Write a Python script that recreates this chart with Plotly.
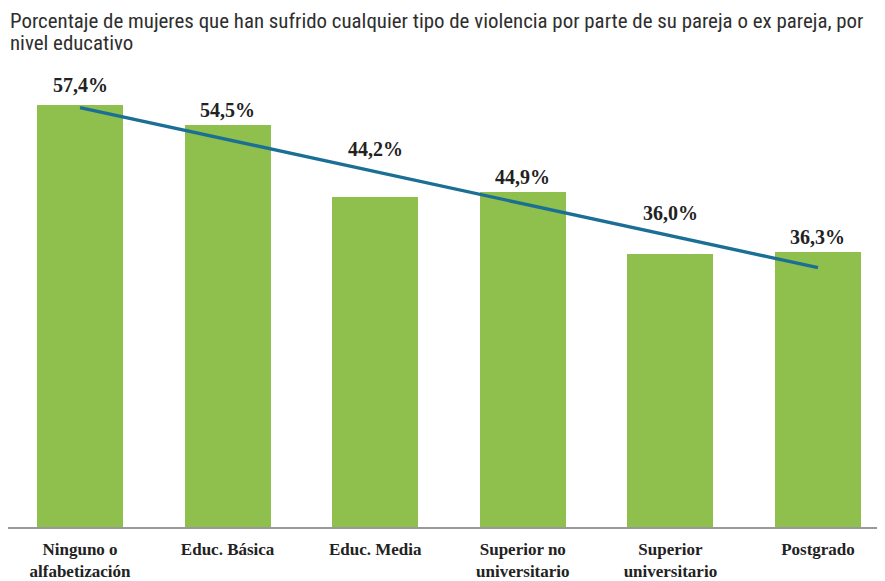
import numpy as np
import plotly.graph_objects as go

categories = ["Ninguno o<br>alfabetización", "Educ. Básica", "Educ. Media",
              "Superior no<br>universitario", "Superior<br>universitario", "Postgrado"]
values = [57.4, 54.5, 44.2, 44.9, 36.0, 36.3]
value_labels = ["57,4%", "54,5%", "44,2%", "44,9%", "36,0%", "36,3%"]
title_lines = ["Porcentaje de mujeres que han sufrido cualquier tipo de violencia por parte de su pareja o ex pareja, por",
               "nivel educativo"]

x = np.arange(len(values))
slope, intercept = np.polyfit(x, values, 1)
trend = slope * x + intercept

BAR = "#8fbf4c"
LINE = "#1b6f94"
SERIF = "Liberation Serif, Times New Roman, serif"
NARROW = "Liberation Sans Narrow, Arial Narrow, Roboto Condensed, Liberation Sans, sans-serif"

# page body has an 8px margin, so the figure is sized to fit the window
W, H = 885 - 8, 581 - 8
T, B = 67, 47
plot_h = H - T - B
Y_MIN, Y_MAX = -2.99, 61.66

vals = np.array(values)
fig = go.Figure()
# bars rise from the bottom of the value axis (as in the original chart)
fig.add_trace(go.Bar(x=x, y=vals - Y_MIN, base=Y_MIN,
                     marker=dict(color=BAR, line=dict(width=0)),
                     width=0.583, hoverinfo="skip"))
fig.add_trace(go.Scatter(x=x, y=trend, mode="lines",
                         line=dict(color=LINE, width=3.4), hoverinfo="skip"))

for xi, v, lab in zip(x, values, value_labels):
    anchor = max(v, slope * (xi - 0.25) + intercept)
    fig.add_annotation(x=xi, y=anchor, text=f"<b>{lab}</b>", showarrow=False,
                       yanchor="middle", yshift=15,
                       font=dict(family=SERIF, size=20, color="#222222"))

for line, yc in zip(title_lines, [12, 35]):
    fig.add_annotation(xref="paper", yref="paper", x=0, y=1 + (T - yc) / plot_h,
                       xanchor="left", yanchor="middle", text=line, showarrow=False,
                       font=dict(family=NARROW, size=20.9, color="#2e2e2e"))

fig.update_layout(
    width=W, height=H,
    paper_bgcolor="white", plot_bgcolor="white",
    margin=dict(l=0, r=0, t=T, b=B, pad=0),
    showlegend=False,
    bargap=0,
    xaxis=dict(range=[-0.488, 5.454], tickvals=x, ticktext=[f"<b>{c}</b>" for c in categories],
               showgrid=False, zeroline=False, showline=True, linecolor="#999999", linewidth=1.5,
               ticks="", ticklabelstandoff=6, tickfont=dict(family=SERIF, size=17, color="#222222"),
               fixedrange=True),
    yaxis=dict(range=[Y_MIN, Y_MAX], visible=False, showgrid=False, zeroline=False, fixedrange=True),
)

fig.write_html("out.html")
